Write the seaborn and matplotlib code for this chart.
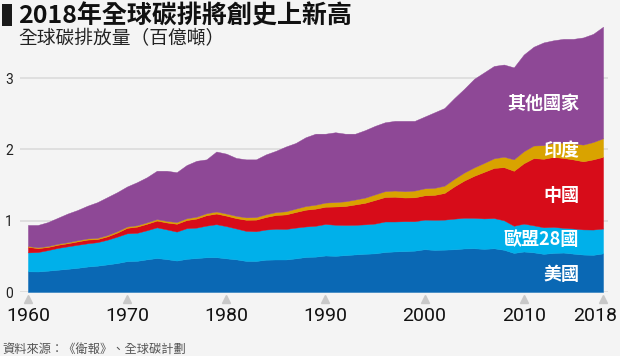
import matplotlib
matplotlib.use("Agg")
import matplotlib.pyplot as plt
import seaborn as sns
from matplotlib.patches import Rectangle

# 全球碳排放量（百億噸）
years = list(range(1960, 2019))
us = [0.290, 0.288, 0.299, 0.312, 0.325, 0.339, 0.357, 0.369, 0.387, 0.406,
      0.433, 0.437, 0.458, 0.477, 0.461, 0.441, 0.465, 0.476, 0.487, 0.488,
      0.472, 0.458, 0.436, 0.435, 0.453, 0.456, 0.456, 0.472, 0.491, 0.496,
      0.512, 0.507, 0.517, 0.527, 0.536, 0.542, 0.561, 0.569, 0.573, 0.580,
      0.600, 0.590, 0.594, 0.599, 0.611, 0.613, 0.605, 0.613, 0.592, 0.548,
      0.568, 0.556, 0.535, 0.548, 0.553, 0.538, 0.525, 0.521, 0.542]
eu28 = [0.265, 0.272, 0.288, 0.306, 0.315, 0.323, 0.326, 0.330, 0.346, 0.370,
        0.390, 0.393, 0.408, 0.430, 0.417, 0.406, 0.430, 0.427, 0.444, 0.463,
        0.452, 0.433, 0.421, 0.417, 0.423, 0.430, 0.428, 0.431, 0.428, 0.433,
        0.442, 0.436, 0.423, 0.415, 0.413, 0.418, 0.428, 0.420, 0.420, 0.413,
        0.415, 0.423, 0.421, 0.430, 0.430, 0.427, 0.427, 0.424, 0.414, 0.381,
        0.391, 0.379, 0.373, 0.365, 0.347, 0.353, 0.353, 0.355, 0.348]
china = [0.078, 0.055, 0.044, 0.044, 0.044, 0.048, 0.052, 0.043, 0.047, 0.058,
         0.077, 0.087, 0.091, 0.095, 0.097, 0.110, 0.114, 0.127, 0.146, 0.149,
         0.147, 0.145, 0.156, 0.163, 0.176, 0.194, 0.204, 0.219, 0.235, 0.240,
         0.242, 0.256, 0.266, 0.286, 0.302, 0.331, 0.343, 0.347, 0.332, 0.335,
         0.341, 0.349, 0.374, 0.453, 0.523, 0.590, 0.653, 0.703, 0.745, 0.771,
         0.847, 0.943, 0.960, 0.982, 0.980, 0.968, 0.955, 0.984, 1.006]
india = [0.011, 0.012, 0.013, 0.014, 0.014, 0.016, 0.016, 0.017, 0.018, 0.019,
         0.018, 0.019, 0.020, 0.021, 0.022, 0.024, 0.025, 0.026, 0.027, 0.029,
         0.029, 0.032, 0.034, 0.036, 0.038, 0.041, 0.044, 0.047, 0.051, 0.055,
         0.058, 0.062, 0.066, 0.069, 0.073, 0.078, 0.082, 0.087, 0.089, 0.095,
         0.098, 0.099, 0.102, 0.106, 0.112, 0.118, 0.125, 0.135, 0.146, 0.161,
         0.168, 0.176, 0.191, 0.199, 0.215, 0.223, 0.234, 0.243, 0.260]
others = [0.296, 0.313, 0.336, 0.364, 0.402, 0.424, 0.459, 0.501, 0.532, 0.547,
          0.562, 0.604, 0.633, 0.677, 0.703, 0.699, 0.746, 0.784, 0.756, 0.841,
          0.840, 0.812, 0.813, 0.809, 0.840, 0.859, 0.908, 0.921, 0.965, 0.996,
          0.966, 0.979, 0.948, 0.923, 0.946, 0.961, 0.966, 0.977, 0.986, 0.977,
          1.006, 1.059, 1.089, 1.132, 1.174, 1.242, 1.270, 1.295, 1.293, 1.289,
          1.356, 1.386, 1.441, 1.436, 1.455, 1.468, 1.503, 1.517, 1.564]

series_names = ["美國", "歐盟28國", "中國", "印度", "其他國家"]
colors = ["#0a68b4", "#00b0ea", "#d70c19", "#d9a300", "#8e4896"]
# label anchors (right aligned), in data units
label_pos = [(2015.6, 0.25), (2015.6, 0.74), (2015.6, 1.36), (2015.6, 1.98), (2015.6, 2.64)]

xticks = [1960, 1970, 1980, 1990, 2000, 2010, 2018]
yticks = [0, 1, 2, 3]

bg = "#f4f4f4"
sns.set_style("white")
plt.rcParams["font.family"] = ["Noto Sans CJK TC", "DejaVu Sans"]

fig = plt.figure(figsize=(6.2, 3.56), dpi=100, facecolor=bg)
ax = fig.add_axes([20 / 620, 1 - 292 / 356, 588 / 620, (292 - 24.6) / 356])
ax.set_facecolor(bg)

polys = ax.stackplot(years, us, eu28, china, india, others, colors=colors, zorder=2)
for p, c in zip(polys, colors):
    p.set_edgecolor(c)
    p.set_linewidth(0.3)

ax.set_xlim(1959.2, 2018.5)
ax.set_ylim(0, 3.75)
ax.set_yticks(yticks)
ax.set_yticklabels([str(v) for v in yticks], fontsize=10, color="#222222", family="Roboto")
ax.set_xticks(xticks)
# the last year is written separately so it can sit inside the right edge
ax.set_xticklabels([str(v) for v in xticks[:-1]] + [""], color="#111111",
                   family="Roboto", fontsize=14)
ax.annotate(str(xticks[-1]), xy=(xticks[-1], 0), xycoords=("data", "axes fraction"),
            xytext=(-6, -11), textcoords="offset points", ha="center", va="top",
            color="#111111", family="Roboto", fontsize=14)
ax.tick_params(axis="y", length=0, pad=5)
ax.tick_params(axis="x", length=0, pad=11)
ax.grid(axis="y", color="#d9d9d9", linewidth=1.1, zorder=1)
ax.grid(axis="x", visible=False)
sns.despine(ax=ax, left=True, bottom=True)

# small triangles under the ticks
ax.plot(xticks, [-0.026] * len(xticks), linestyle="none", marker="^", markersize=6,
        color="#c8c8c8", transform=ax.get_xaxis_transform(), clip_on=False)

for name, (x, y) in zip(series_names, label_pos):
    ax.text(x, y, name, color="white", fontsize=13, ha="right", va="center",
            fontweight="bold", zorder=3)

fig.patches.append(Rectangle((2 / 620, 1 - 26 / 356), 10 / 620, 22 / 356,
                             transform=fig.transFigure, facecolor="#1a1a1a", edgecolor="none"))
fig.text(18 / 620, 1 - 24 / 356, "2018年全球碳排將創史上新高", fontsize=18,
         color="#111111", va="baseline", ha="left", fontweight="bold")
fig.text(18 / 620, 1 - 44.5 / 356, "全球碳排放量（百億噸）", fontsize=13.5,
         color="#222222", va="baseline", ha="left")
fig.text(2 / 620, 1 - 352.5 / 356, "資料來源：《衛報》、全球碳計劃", fontsize=8.8,
         color="#555555", va="baseline", ha="left")

fig.savefig("out.png", dpi=100, facecolor=bg)
